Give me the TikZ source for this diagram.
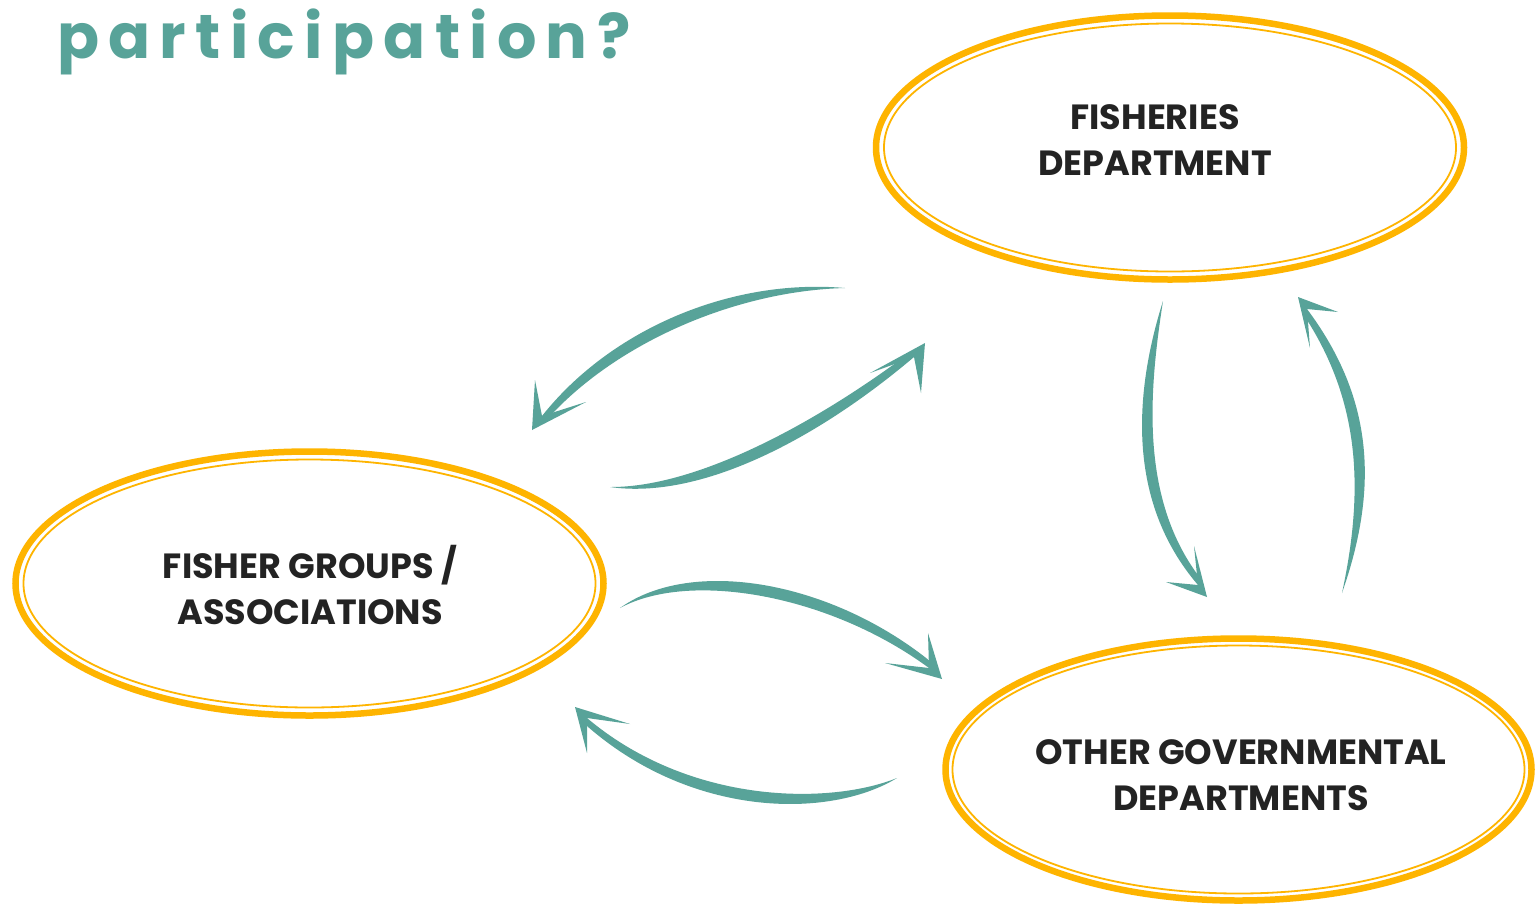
\documentclass[tikz,border=0pt]{standalone}
\usepackage{fontspec}
\setmainfont{Poppins}
\newfontfamily\titlefont{Poppins}[LetterSpace=15]
\usetikzlibrary{calc,shapes.geometric}

\definecolor{brushteal}{HTML}{58A399}
\definecolor{ringgold}{HTML}{FEB400}
\definecolor{ink}{HTML}{232323}

\tikzset{
  ringnode/.style={ellipse, draw=ringgold, line width=6.5pt, inner sep=0pt,
    minimum width=588pt, minimum height=264pt},
  ringthin/.style={draw=ringgold, line width=1.8pt},
  ringstreak/.style={draw=ringgold, line width=0.7pt, opacity=0.7},
  labeltext/.style={text=ink, align=center, inner sep=0pt,
    font=\bfseries\fontsize{35}{46}\selectfont},
  titletext/.style={text=brushteal, inner sep=0pt,
    font=\titlefont\bfseries\fontsize{62}{70}\selectfont},
}

% tapered brush stroke between named points s, c1, c2, n of arrow #1
\newcommand\brushshaft[3]{%
  \fill[brushteal] (#1-s) .. controls (#1-c1) and (#1-c2) .. (#1-n)
    -- ($(#1-n)!-6pt!#2:(#1-c2)$)
    .. controls ($(#1-c2)!-#3!#2:(#1-c1)$) and ($(#1-c1)!#3!#2:(#1-c2)$) .. (#1-s) -- cycle;
  \fill[brushteal] (#1-t) -- (#1-b1) -- (#1-n) -- (#1-b2) -- cycle;
}

% hand-drawn double ring around a named ellipse node
\newcommand\ringdecor[1]{%
  \draw[ringthin] (#1.center) ellipse [x radius=286, y radius=124];
  \draw[ringstreak] (#1.center) ++(-65:291 and 129)
    arc [start angle=-65, end angle=-20, x radius=291, y radius=129];
  \draw[ringstreak] (#1.center) ++(100:292 and 130)
    arc [start angle=100, end angle=150, x radius=292, y radius=130];
}

\begin{document}
\begin{tikzpicture}[x=1pt, y=-1pt]
\useasboundingbox[fill=white] (0,0) rectangle (1535,903);

% title
\node[titletext, anchor=base west] (title) at (57,58) {participation?};

% rings
\node[ringnode] (fishring) at (1170,147.5) {};
\node[ringnode] (groupring) at (309.5,583.5) {};
\node[ringnode, minimum width=586pt, minimum height=262pt] (otherring) at (1238.5,769.5) {};
\ringdecor{fishring}
\ringdecor{groupring}
\ringdecor{otherring}

% labels
\node[labeltext] (fish) at (1155,140) {FISHERIES\\DEPARTMENT};
\node[labeltext] (group) at (310,585) {FISHER GROUPS /\\ASSOCIATIONS};
\node[labeltext] (other) at (1241,775) {OTHER GOVERNMENTAL\\DEPARTMENTS};

% arrow: fisheries -> fisher groups
\coordinate (a1-s) at (845,288);
\coordinate (a1-c1) at (730,278);
\coordinate (a1-c2) at (610,330);
\coordinate (a1-t) at (532,430);
\coordinate (a1-b1) at (535,380);
\coordinate (a1-b2) at (586,402);
\coordinate (a1-n) at (542,416);
\brushshaft{a1}{90}{14pt}

% arrow: fisher groups -> fisheries
\coordinate (a2-s) at (610,487);
\coordinate (a2-c1) at (700,500);
\coordinate (a2-c2) at (816,440);
\coordinate (a2-t) at (925,343);
\coordinate (a2-b1) at (870,373);
\coordinate (a2-b2) at (921,393);
\coordinate (a2-n) at (914,357);
\brushshaft{a2}{90}{14pt}

% arrow: fisher groups -> other departments
\coordinate (a3-s) at (620,608);
\coordinate (a3-c1) at (690,570);
\coordinate (a3-c2) at (830,595);
\coordinate (a3-t) at (942,679);
\coordinate (a3-b1) at (928,633);
\coordinate (a3-b2) at (885,663);
\coordinate (a3-n) at (929,668);
\brushshaft{a3}{90}{14pt}

% arrow: other departments -> fisher groups
\coordinate (a4-s) at (897,778);
\coordinate (a4-c1) at (830,805);
\coordinate (a4-c2) at (690,805);
\coordinate (a4-t) at (575,707);
\coordinate (a4-b1) at (630,724);
\coordinate (a4-b2) at (587,753);
\coordinate (a4-n) at (587,718);
\brushshaft{a4}{90}{14pt}

% arrow: fisheries -> other departments
\coordinate (a5-s) at (1163,301);
\coordinate (a5-c1) at (1135,390);
\coordinate (a5-c2) at (1125,500);
\coordinate (a5-t) at (1207,597);
\coordinate (a5-b1) at (1194,546);
\coordinate (a5-b2) at (1166,582);
\coordinate (a5-n) at (1198,585);
\brushshaft{a5}{90}{14pt}

% arrow: other departments -> fisheries
\coordinate (a6-s) at (1342,593);
\coordinate (a6-c1) at (1378,490);
\coordinate (a6-c2) at (1375,400);
\coordinate (a6-t) at (1298,297);
\coordinate (a6-b1) at (1310,348);
\coordinate (a6-b2) at (1338,312);
\coordinate (a6-n) at (1307,309);
\brushshaft{a6}{90}{14pt}
\end{tikzpicture}
\end{document}
